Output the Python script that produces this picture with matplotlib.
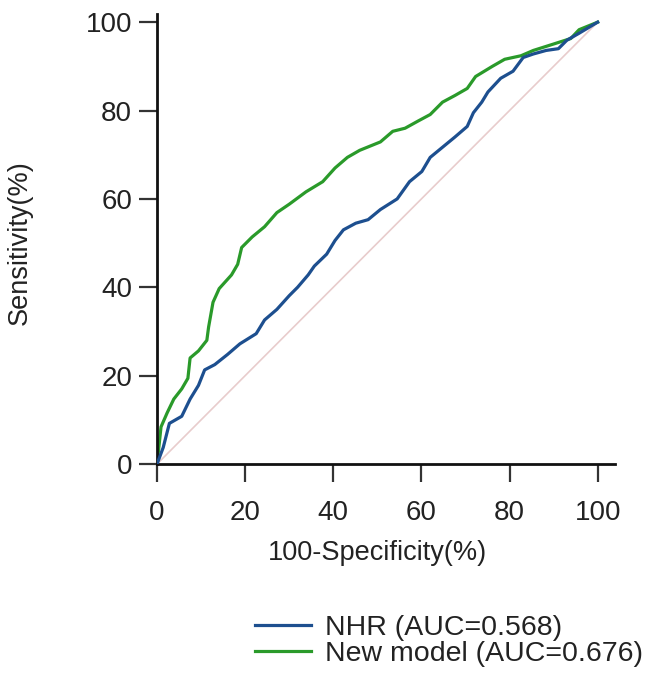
import matplotlib
matplotlib.use("Agg")
import matplotlib.pyplot as plt
from matplotlib.lines import Line2D

plt.rcParams['font.family'] = ['Liberation Sans', 'DejaVu Sans']

# ROC curve data (100-Specificity %, Sensitivity %)
new_fpr = [0, 0.9, 2.3, 3.8, 5.6, 7.0, 7.5, 9.4, 11.3, 11.7, 12.7, 14.1, 16.9, 18.3, 19.2,
           21.6, 24.4, 27.2, 30.0, 33.8, 37.6, 40.4, 43.2, 46.0, 50.7, 53.5, 56.3, 59.2,
           62.0, 64.8, 67.6, 70.4, 72.3, 76.1, 78.9, 82.6, 85.4, 89.2, 93.9, 95.8, 100]
new_tpr = [0, 8.4, 11.6, 14.7, 17.0, 19.4, 24.0, 25.6, 28.0, 31.0, 36.6, 39.7, 42.8, 45.2, 49.0,
           51.4, 53.7, 56.9, 58.8, 61.6, 63.9, 67.0, 69.4, 71.0, 72.9, 75.3, 76.0, 77.6,
           79.1, 81.9, 83.4, 85.0, 87.7, 90.0, 91.6, 92.4, 93.6, 94.8, 96.3, 98.3, 100]

nhr_fpr = [0, 1.4, 2.8, 5.6, 7.5, 9.4, 10.8, 13.1, 16.0, 18.8, 22.5, 24.4, 27.2, 30.0, 31.9,
           34.3, 35.7, 38.5, 40.4, 42.3, 45.1, 47.9, 50.7, 54.5, 57.3, 60.1, 62.0, 64.8,
           67.6, 70.4, 71.8, 73.7, 75.1, 78.0, 80.8, 83.1, 85.4, 88.3, 91.1, 93.0, 95.8, 100]
nhr_tpr = [0, 3.75, 9.2, 10.8, 14.7, 17.8, 21.3, 22.5, 24.8, 27.2, 29.5, 32.6, 35.0, 38.1, 40.0,
           42.8, 44.8, 47.5, 50.6, 53.0, 54.5, 55.3, 57.6, 60.0, 63.9, 66.2, 69.4, 71.7,
           74.0, 76.4, 79.5, 81.9, 84.2, 87.3, 88.9, 92.0, 92.8, 93.6, 94.0, 95.9, 97.5, 100]

labels = ["NHR (AUC=0.568)", "New model (AUC=0.676)"]
ticks = [0, 20, 40, 60, 80, 100]

blue = "#1d4f8f"
green = "#2a9a2a"
diag_color = "#e8cccc"
text_color = "#222222"

fig = plt.figure(figsize=(6.49, 6.77), dpi=100)
ax = fig.add_axes([0.242, 0.3146, 0.706, 0.6644])

ax.plot([0, 100], [0, 100], color=diag_color, lw=1.2, zorder=1)
ax.plot(nhr_fpr, nhr_tpr, color=blue, lw=2.3, zorder=3)
ax.plot(new_fpr, new_tpr, color=green, lw=2.3, zorder=2)

ax.set_xlim(0, 104)
ax.set_ylim(0, 101.8)
ax.set_xticks(ticks)
ax.set_yticks(ticks)
ax.tick_params(direction='out', length=13, width=1.6, labelsize=20, color='#333333',
               labelcolor=text_color)
ax.tick_params(axis='x', pad=13)
ax.tick_params(axis='y', pad=5)
for s in ['top', 'right']:
    ax.spines[s].set_visible(False)
for s in ['left', 'bottom']:
    ax.spines[s].set_linewidth(2)
    ax.spines[s].set_color('#111111')

ax.text(50, -0.197, "100-Specificity(%)", transform=ax.get_xaxis_transform(),
        ha='center', va='center', fontsize=19.5, color=text_color)
ax.text(-0.30, 50, "Sensitivity(%)", transform=ax.get_yaxis_transform(),
        ha='center', va='center', rotation=90, fontsize=19.5, color=text_color)

handles = [Line2D([], [], color=blue, lw=2.3), Line2D([], [], color=green, lw=2.3)]
fig.legend(handles, labels, loc='center left', bbox_to_anchor=(255 / 649, 1 - 641 / 677),
           frameon=False, fontsize=20.5, handlelength=1.95, handletextpad=0.5,
           labelspacing=0.0, borderaxespad=0, borderpad=0, labelcolor=text_color)

fig.savefig("out.png", dpi=100)
